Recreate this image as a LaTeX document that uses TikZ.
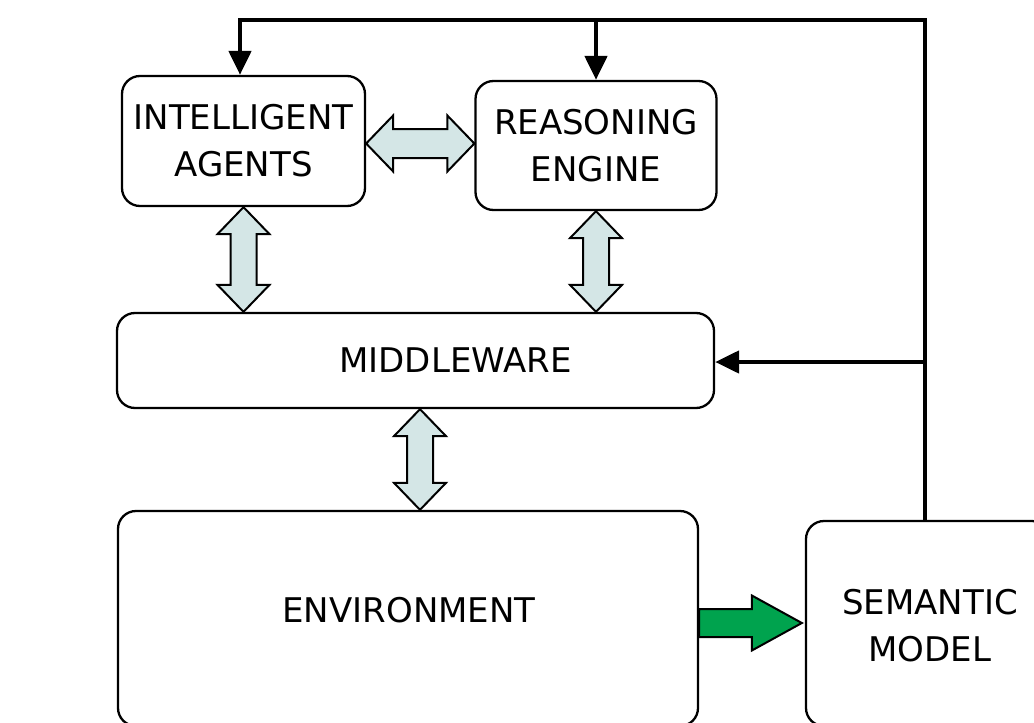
\documentclass[tikz,border=0pt]{standalone}
\usepackage{fontspec}
\setmainfont{DejaVu Sans}
\usetikzlibrary{calc,arrows.meta}

\definecolor{pale}{RGB}{212,230,230}
\definecolor{flowgreen}{RGB}{0,163,78}

\tikzset{
  box/.style={draw=black, line width=2.3pt, rounded corners=18pt, fill=white,
              inner sep=0pt, align=center},
  lbl/.style={font=\fontsize{34}{47}\selectfont, align=center, inner sep=0pt},
  fb/.style={draw=black, line width=4.6pt, line join=miter},
  fbarrow/.style={fb, -{Triangle[length=24pt,width=22pt]}},
  dbl/.style={draw=black, line width=2pt, fill=pale, line join=miter},
  fwd/.style={draw=black, line width=2pt, fill=flowgreen, line join=miter}
}

% vertical two-headed block arrow from #1 (top tip) to #2 (bottom tip)
\newcommand\vdblarrow[2]{%
  \draw[dbl] let \p1=(#1), \p2=(#2) in
    (\p1) -- (\x1+26pt,\y1-27pt) -- (\x1+13pt,\y1-27pt) -- (\x1+13pt,\y2+27pt)
    -- (\x1+26pt,\y2+27pt) -- (\x1,\y2) -- (\x1-26pt,\y2+27pt)
    -- (\x1-13pt,\y2+27pt) -- (\x1-13pt,\y1-27pt) -- (\x1-26pt,\y1-27pt) -- cycle;}

% horizontal two-headed block arrow from #1 (left tip) to #2 (right tip)
\newcommand\hdblarrow[2]{%
  \draw[dbl] let \p1=(#1), \p2=(#2) in
    (\p1) -- (\x1+27pt,\y1+28pt) -- (\x1+27pt,\y1+14.5pt) -- (\x2-27pt,\y1+14.5pt)
    -- (\x2-27pt,\y1+28pt) -- (\x2,\y1) -- (\x2-27pt,\y1-28pt)
    -- (\x2-27pt,\y1-14.5pt) -- (\x1+27pt,\y1-14.5pt) -- (\x1+27pt,\y1-28pt) -- cycle;}

\begin{document}
\begin{tikzpicture}[x=1pt,y=-1pt]
\useasboundingbox (0,0) rectangle (1034,723);
\clip (0,0) rectangle (1034,723);

% blocks
\node[box, lbl, minimum width=243pt, minimum height=130pt] (ia) at (243.5,141)
  {INTELLIGENT\\AGENTS};
\node[box, lbl, minimum width=241pt, minimum height=129pt] (re) at (596,145.5)
  {REASONING\\ENGINE};
\node[box, minimum width=597pt, minimum height=95pt] (mw) at (415.5,360.5) {};
\node[lbl] (mwtext) at (455.5,360) {MIDDLEWARE};
\node[box, minimum width=580pt, minimum height=215pt] (env) at (408,618.5) {};
\node[lbl] (envtext) at (409,610) {ENVIRONMENT};
\node[box, minimum width=244pt, minimum height=205pt] (sm) at (928,623.5) {};
\node[lbl] (smtext) at (930,626) {SEMANTIC\\MODEL};

% two-way exchanges between the blocks
\hdblarrow{[yshift=-2.5pt]ia.east}{[yshift=-2.5pt]ia.east -| re.west}
\vdblarrow{ia.south}{ia.south |- mw.north}
\vdblarrow{re.south}{re.south |- mw.north}
\vdblarrow{[xshift=4.5pt]mw.south}{[xshift=4.5pt]mw.south |- env.north}

% environment feeds the semantic model
\draw[fwd] let \p1=([yshift=-4.5pt]env.east), \p2=(\p1 -| sm.west) in
  (\x1,\y1+14pt) -- (\x2-53pt,\y1+14pt) -- (\x2-53pt,\y1+27.5pt) -- (\x2-3pt,\y1)
  -- (\x2-53pt,\y1-27.5pt) -- (\x2-53pt,\y1-14pt) -- (\x1,\y1-14pt) -- cycle;

% feedback from the semantic model
\coordinate (fbtop) at (925,20);
\coordinate (fbmid) at (925,362);
\draw[fbarrow] (fbtop |- sm.north) -- (fbtop) -| ([xshift=-3.5pt]ia.north);
\draw[fbarrow] (re.north |- fbtop) -- (re.north);
\draw[fbarrow] (fbmid) -- (fbmid -| mw.east);
\end{tikzpicture}
\end{document}
